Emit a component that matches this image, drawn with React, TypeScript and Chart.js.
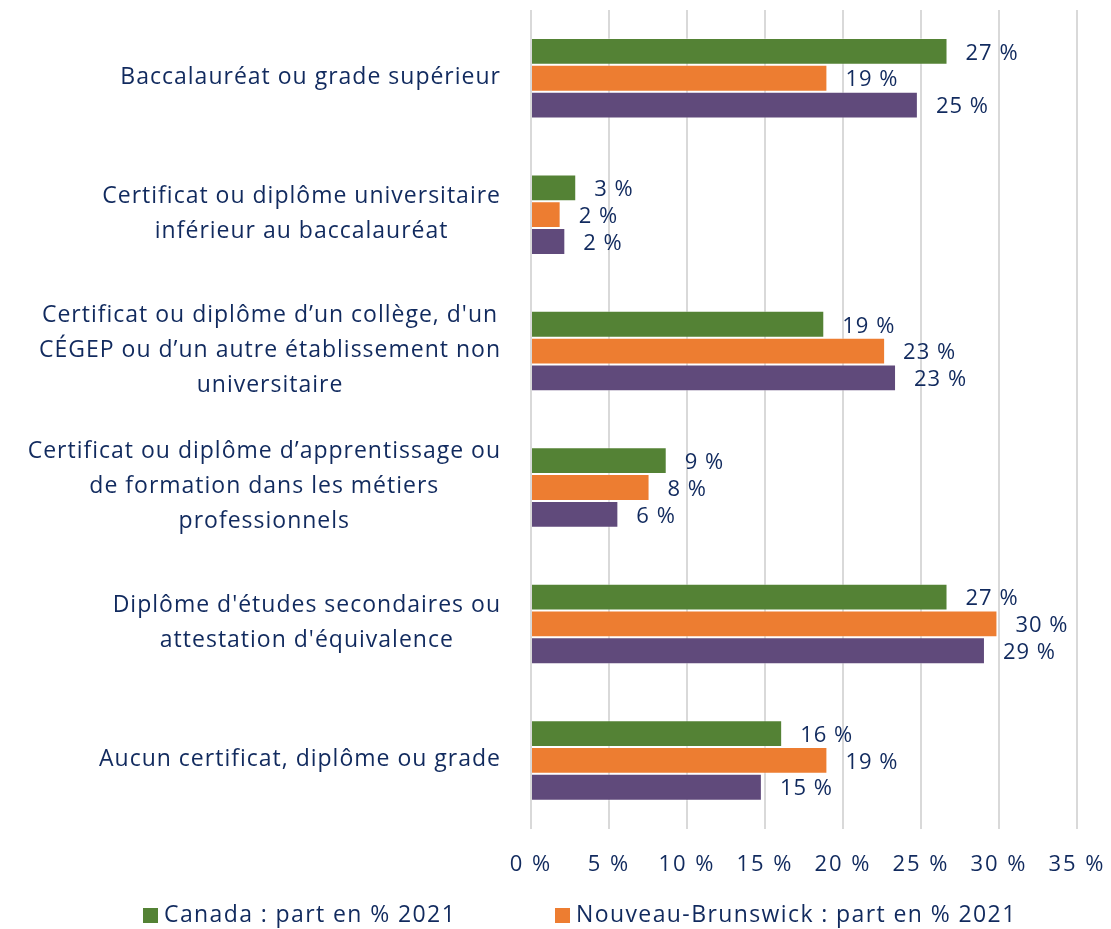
import React, { useEffect, useRef } from "react";
import { Chart, registerables } from "chart.js";

Chart.register(...registerables);

const categories: string[][] = [
  ["Baccalauréat ou grade supérieur"],
  ["Certificat ou diplôme universitaire", "inférieur au baccalauréat"],
  ["Certificat ou diplôme d’un collège, d'un", "CÉGEP ou d’un autre établissement non", "universitaire"],
  ["Certificat ou diplôme d’apprentissage ou", "de formation dans les métiers", "professionnels"],
  ["Diplôme d'études secondaires ou", "attestation d'équivalence"],
  ["Aucun certificat, diplôme ou grade"],
];

const canadaValues = [26.7, 2.9, 18.8, 8.7, 26.7, 16.1];
const nbValues = [19.0, 1.9, 22.7, 7.6, 29.9, 19.0];
const thirdValues = [24.8, 2.2, 23.4, 5.6, 29.1, 14.8];

const seriesLabels = [
  "Canada : part en % 2021",
  "Nouveau-Brunswick : part en % 2021",
  "Troisième série : part en % 2021",
];
const legendShown = [true, true, false];

const xTicks = [0, 5, 10, 15, 20, 25, 30, 35];

const TEXT = "#112A5E";
const FONT = "'Open Sans'";
const COLORS = ["#548235", "#ED7D31", "#604A7B"];

const App: React.FC = () => {
  const ref = useRef<HTMLCanvasElement | null>(null);

  useEffect(() => {
    document.body.style.margin = "0";
    if (!ref.current) return;

    const spacingPlugin = {
      id: "spacing",
      beforeDraw(chart: any) {
        (chart.ctx as any).letterSpacing = "2px";
      },
    };

    const catLabelPlugin = {
      id: "catLabels",
      afterDraw(chart: any) {
        const ctx = chart.ctx;
        const yScale = chart.scales.y;
        ctx.save();
        (ctx as any).letterSpacing = "1px";
        ctx.font = `23px ${FONT}`;
        ctx.fillStyle = TEXT;
        ctx.textAlign = "left";
        ctx.textBaseline = "middle";
        const rightEdge = chart.chartArea.left - 30;
        const lh = 35;
        categories.forEach((lines, i) => {
          const cy = yScale.getPixelForTick(i) - 1;
          const widths = lines.map((l) => ctx.measureText(l).width);
          const w = Math.max(...widths);
          const cx = rightEdge - w / 2;
          const startY = cy - ((lines.length - 1) * lh) / 2;
          lines.forEach((l, j) => ctx.fillText(l, cx - widths[j] / 2, startY + j * lh));
        });
        ctx.restore();
      },
    };

    const valueLabelPlugin = {
      id: "valueLabels",
      afterDatasetsDraw(chart: any) {
        const ctx = chart.ctx;
        ctx.save();
        (ctx as any).letterSpacing = "1px";
        ctx.font = `22px ${FONT}`;
        ctx.fillStyle = TEXT;
        ctx.textAlign = "left";
        ctx.textBaseline = "middle";
        chart.data.datasets.forEach((ds: any, di: number) => {
          const meta = chart.getDatasetMeta(di);
          meta.data.forEach((el: any, i: number) => {
            const v = ds.data[i] as number;
            ctx.fillText(`${Math.round(v)} %`, el.x + 18, el.y + 2);
          });
        });
        ctx.restore();
      },
    };

    const legendPlugin = {
      id: "customLegend",
      afterDraw(chart: any) {
        const ctx = chart.ctx;
        ctx.save();
        (ctx as any).letterSpacing = "1.4px";
        ctx.font = `23px ${FONT}`;
        ctx.textBaseline = "middle";
        ctx.textAlign = "left";
        const y = 915;
        const starts = [143, 555];
        let k = 0;
        chart.data.datasets.forEach((ds: any, di: number) => {
          if (!legendShown[di]) return;
          const x = starts[k++];
          ctx.fillStyle = ds.backgroundColor;
          ctx.fillRect(x, y - 7, 15, 15);
          ctx.fillStyle = TEXT;
          ctx.fillText(ds.label, x + 21, y);
        });
        ctx.restore();
        (ctx as any).letterSpacing = "0px";
      },
    };

    const chart = new Chart(ref.current, {
      type: "bar",
      data: {
        labels: categories.map((c) => c.join(" ")),
        datasets: [canadaValues, nbValues, thirdValues].map((vals, i) => ({
          label: seriesLabels[i],
          data: vals,
          backgroundColor: COLORS[i],
          borderColor: "rgba(255,255,255,0.35)",
          borderWidth: 1,
          categoryPercentage: 0.59,
          barPercentage: 1,
        })),
      },
      options: {
        indexAxis: "y",
        animation: false,
        responsive: true,
        maintainAspectRatio: false,
        layout: { padding: { top: 10, right: 34, bottom: 28, left: 0 } },
        plugins: {
          legend: { display: false },
          tooltip: { enabled: false },
        },
        scales: {
          x: {
            min: 0,
            max: 35,
            afterBuildTicks(scale: any) {
              scale.ticks = xTicks.map((v) => ({ value: v }));
            },
            afterFit(scale: any) {
              scale.paddingLeft = 0;
              scale.paddingRight = 0;
            },
            grid: { color: "#D9D9D9", lineWidth: 2, drawTicks: false },
            border: { display: false },
            ticks: {
              padding: 23,
              color: TEXT,
              font: { family: "Open Sans", size: 22 },
              callback: (v: any) => `${v} %`,
            },
          },
          y: {
            grid: { display: false },
            border: { display: false },
            ticks: { display: false },
            afterFit(scale: any) {
              scale.width = 531;
            },
          },
        },
      },
      plugins: [spacingPlugin, catLabelPlugin, valueLabelPlugin, legendPlugin],
    });

    return () => chart.destroy();
  }, []);

  return (
    <div style={{ width: 1111, height: 929, position: "relative" }}>
      <canvas ref={ref} />
    </div>
  );
};

export default App;
